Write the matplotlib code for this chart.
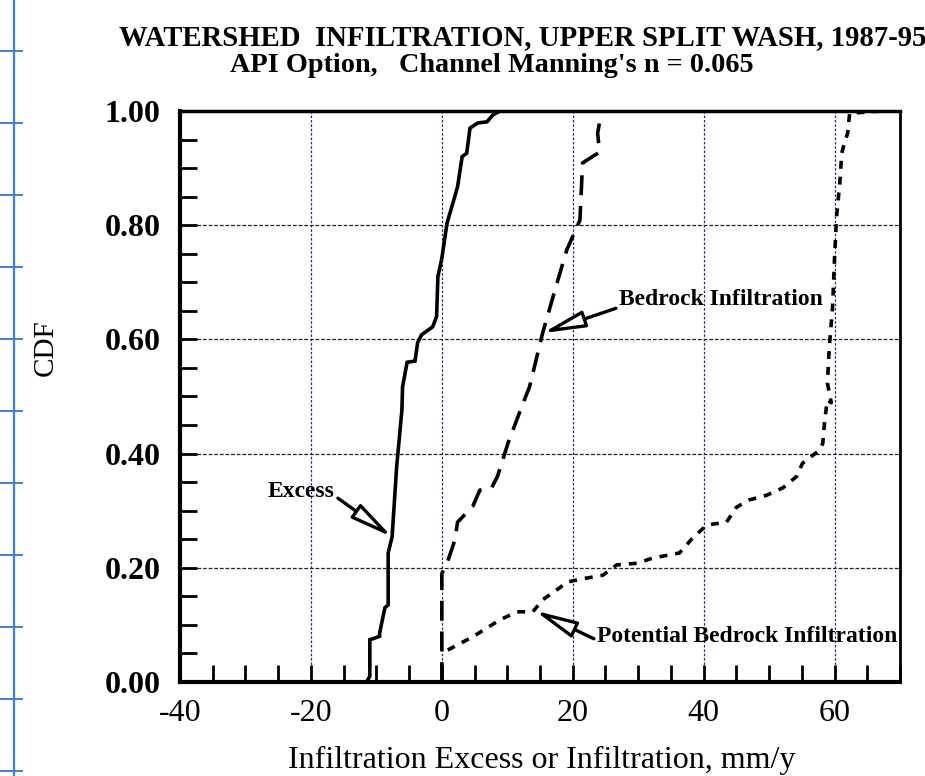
import numpy as np
import matplotlib
matplotlib.use("Agg")
import matplotlib.pyplot as plt
from matplotlib.lines import Line2D
from matplotlib.ticker import MultipleLocator

# ── Data ────────────────────────────────────────────────────────────────────
excess_x = [-40, -11.5, -11.0, -11.0, -9.5, -9.5, -8.7, -8.2, -8.2, -7.6, -6.9,
            -6.1, -6.0, -5.3, -4.1, -3.7, -3.1, -1.4, -0.8, -0.6, 0.0, 0.8,
            1.7, 2.4, 3.1, 3.8, 4.3, 5.5, 6.9, 7.8, 8.9, 27.0]
excess_y = [0.0, 0.0, 0.01, 0.074, 0.08, 0.086, 0.13, 0.135, 0.226, 0.254, 0.377,
            0.476, 0.517, 0.56, 0.562, 0.594, 0.608, 0.622, 0.64, 0.71, 0.742, 0.804,
            0.839, 0.867, 0.92, 0.926, 0.97, 0.979, 0.981, 0.993, 1.0, 1.0]

bedrock_x = [0.0, 0.0, 0.8, 2.0, 2.4, 4.7, 5.8, 7.6, 8.5, 10.1, 12.4, 13.4,
             15.4, 17.6, 19.1, 21.1, 21.4, 21.5, 24.1, 23.8, 24.4, 27.2]
bedrock_y = [0.0, 0.19, 0.208, 0.249, 0.28, 0.307, 0.336, 0.34, 0.36, 0.418, 0.488, 0.517,
             0.611, 0.699, 0.757, 0.809, 0.884, 0.909, 0.928, 0.961, 1.0, 1.0]

potential_x = [0.9, 4.7, 8.9, 11.5, 13.9, 15.4, 18.0, 19.1, 22.1, 24.6, 26.7, 29.8,
               32.2, 36.3, 38.3, 40.5, 43.5, 45.0, 47.0, 49.6, 52.1, 54.2, 55.1,
               57.7, 58.2, 58.5, 58.9, 59.5, 58.9, 59.2, 59.7, 60.0, 60.3, 60.8,
               61.1, 61.5, 62.0, 62.3, 67.3]
potential_y = [0.056, 0.079, 0.109, 0.123, 0.123, 0.144, 0.165, 0.175, 0.182, 0.187, 0.205, 0.208,
               0.217, 0.226, 0.252, 0.275, 0.28, 0.306, 0.319, 0.327, 0.34, 0.36, 0.383,
               0.406, 0.418, 0.459, 0.494, 0.489, 0.524, 0.587, 0.657, 0.744, 0.814, 0.874,
               0.926, 0.944, 0.961, 0.996, 1.0]

x_ticks = [-40, -20, 0, 20, 40, 60]
y_ticks = [0.0, 0.2, 0.4, 0.6, 0.8, 1.0]

SERIF = "Liberation Serif"

fig = plt.figure(figsize=(9.25, 7.76), dpi=100)
ax = fig.add_axes([0.1946, 0.1211, 0.7784, 0.7359])

ax.plot(excess_x, excess_y, color="black", lw=2.6, solid_joinstyle="miter")
ax.plot(bedrock_x, bedrock_y, color="black", lw=2.6, linestyle=(0, (5.5, 3)))
ax.plot(potential_x, potential_y, color="black", lw=2.6, linestyle=(0, (2.2, 2.2)))

ax.set_xlim(-40, 70)
ax.set_ylim(0, 1.0)

# gridlines (dotted, vertical ones slightly bluish like the scan)
for xv in [-20, 0, 20, 40, 60]:
    ax.axvline(xv, color="#20306a", lw=0.9, linestyle=(0, (2, 1.5)), zorder=0)
for yv in [0.2, 0.4, 0.6, 0.8]:
    ax.axhline(yv, color="#222222", lw=0.9, linestyle=(0, (3, 1.5)), zorder=0)

ax.set_xticks(x_ticks)
ax.set_yticks(y_ticks)
ax.set_xticklabels([str(v) for v in x_ticks], fontsize=23, family=SERIF)
ax.set_yticklabels([f"{v:.2f}" for v in y_ticks], fontsize=23, family=SERIF,
                   fontweight="bold")
ax.xaxis.set_minor_locator(MultipleLocator(5))
ax.yaxis.set_minor_locator(MultipleLocator(0.05))
ax.tick_params(which="both", direction="in", top=False, right=False, width=2)
ax.tick_params(which="minor", length=12)
ax.tick_params(which="major", length=12)
ax.tick_params(axis="y", which="major", pad=14)
ax.tick_params(axis="x", which="major", pad=12)

for side, w in [("left", 3), ("bottom", 3), ("top", 2.5), ("right", 2)]:
    ax.spines[side].set_linewidth(w)

ax.set_xlabel("Infiltration Excess or Infiltration, mm/y", fontsize=23, family=SERIF)
ax.set_ylabel("CDF", fontsize=21, family=SERIF)
ax.xaxis.set_label_coords(0.503, -0.112)
ax.yaxis.set_label_coords(-0.168, 0.585)

# titles
fig.text(0.565, 0.951, "WATERSHED  INFILTRATION, UPPER SPLIT WASH, 1987-95",
         ha="center", va="center", fontsize=20.7, fontweight="bold", family=SERIF)
fig.text(0.532, 0.916, "API Option,   Channel Manning's n = 0.065",
         ha="center", va="center", fontsize=20.3, fontweight="bold", family=SERIF)

# annotations with hollow arrow heads
arrow = dict(arrowstyle="-|>,head_length=1.5,head_width=0.3", fc="white",
             ec="black", lw=2.4, shrinkA=0, shrinkB=0)
ax.annotate("Excess", xy=(-7.6, 0.254), xytext=(-21.5, 0.333),
            fontsize=17, fontweight="bold", family=SERIF, ha="center", va="center",
            arrowprops=dict(arrow, relpos=(1.05, 0.2)))
ax.annotate("Bedrock Infiltration", xy=(15.4, 0.611), xytext=(42.6, 0.669),
            fontsize=17, fontweight="bold", family=SERIF, ha="center", va="center",
            arrowprops=dict(arrow, relpos=(0.0, 0.15)))
ax.annotate("Potential Bedrock Infiltration", xy=(14.2, 0.125), xytext=(46.6, 0.079),
            fontsize=17, fontweight="bold", family=SERIF, ha="center", va="center",
            arrowprops=dict(arrow, relpos=(0.0, 0.35)))

# blue graph-paper edge visible at the left of the scan
blue = "#3d7fd9"
fig.add_artist(Line2D([14 / 925, 14 / 925], [0, 1], color=blue, lw=1.6))
for yp in np.arange(51, 776, 72):
    fig.add_artist(Line2D([0, 22 / 925], [1 - yp / 776, 1 - yp / 776],
                          color=blue, lw=1.4))

fig.savefig("out.png", dpi=100)
